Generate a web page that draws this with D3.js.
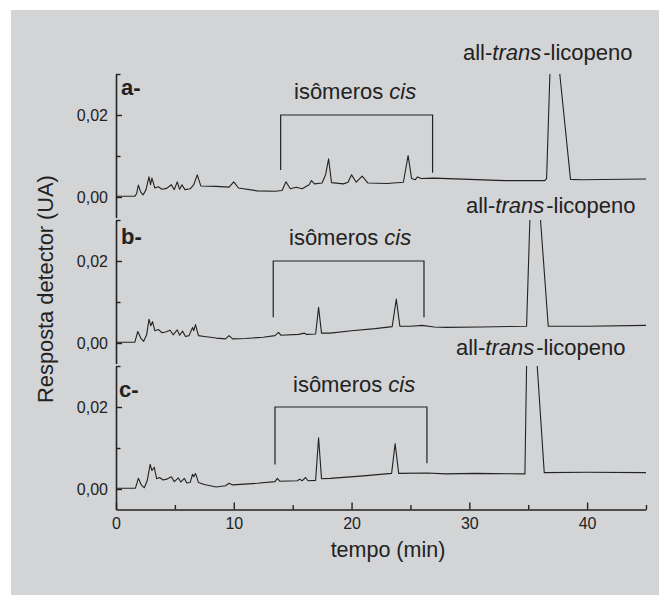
<!DOCTYPE html>
<html><head><meta charset="utf-8">
<script src="https://cdn.jsdelivr.net/npm/d3@7"></script>
<style>
html,body{margin:0;padding:0;background:#fff;}
svg{display:block;}
text{font-family:"Liberation Sans",Arial,Helvetica,sans-serif;fill:#222;}
</style></head>
<body>
<svg id="chart" width="659" height="595"></svg>
<script>
// ---- data (time in min, response in UA) ----
const panelLabels = ["a-", "b-", "c-"];
const xMajorTicks = [0, 10, 20, 30, 40];
const xMinorTicks = [5, 15, 25, 35, 45];
const yMajorTicks = [0, 0.02];
const yMinorTicks = [0.01, 0.03];
const peakLabel = ["all-", "trans", "-licopeno"];
const isomerLabel = ["isômeros ", "cis"];
// bracket [start time, end time, left foot value, right foot value, top value]
const bracketA = [13.98, 26.88, 0.0066, 0.0059, 0.02];
const bracketB = [13.35, 26.15, 0.0063, 0.0063, 0.02];
const bracketC = [13.5, 26.4, 0.006, 0.0063, 0.02];

const traceA = [[0,0.0002],[1.6,0.0002],[1.75,0.0008],[1.9,0.0029],[2.1,0.0012],[2.3,0.0005],[2.55,0.0018],[2.8,0.0049],[2.93,0.0030],[3.05,0.0046],[3.3,0.0022],[3.6,0.0025],[3.9,0.0019],[4.3,0.0021],[4.7,0.0030],[4.95,0.0018],[5.2,0.0037],[5.4,0.0019],[5.6,0.0030],[5.85,0.0018],[6.3,0.0020],[6.6,0.0030],[6.9,0.0054],[7.2,0.0027],[8.5,0.0026],[9.6,0.0024],[10.0,0.0037],[10.4,0.0022],[12,0.0015],[13.5,0.0014],[14.1,0.0016],[14.43,0.0037],[14.8,0.0020],[15.3,0.0024],[15.8,0.0020],[16.4,0.0030],[16.6,0.0040],[16.85,0.0032],[17.5,0.0034],[17.8,0.0055],[18.05,0.0093],[18.3,0.0035],[19.3,0.0032],[19.7,0.0036],[20.0,0.0054],[20.4,0.0036],[20.9,0.0051],[21.4,0.0034],[23,0.0033],[24.4,0.0036],[24.8,0.0101],[25.1,0.0045],[25.4,0.0042],[25.6,0.0049],[25.9,0.0045],[27,0.0046],[30,0.0043],[33,0.0040],[36.4,0.0040],[36.56,0.0045],[37.04,0.048],[38.59,0.0043],[39.5,0.0042],[45,0.0044]];

const traceB = [[0,0.0002],[1.6,0.0002],[1.85,0.0028],[2.1,0.0012],[2.35,0.0004],[2.6,0.0020],[2.8,0.0058],[2.95,0.0042],[3.1,0.0052],[3.3,0.0030],[3.6,0.0033],[3.9,0.0025],[4.2,0.0027],[4.6,0.0031],[4.85,0.0020],[5.2,0.0032],[5.4,0.0019],[5.65,0.0029],[5.9,0.0016],[6.2,0.0018],[6.5,0.0038],[6.6,0.0030],[6.75,0.0045],[7.0,0.0018],[7.5,0.0016],[8.5,0.0012],[9.3,0.0010],[9.6,0.0018],[9.9,0.0010],[11,0.0011],[12.5,0.0014],[13.5,0.0018],[13.8,0.0026],[14.0,0.0019],[15.5,0.0021],[16.0,0.0024],[16.2,0.0021],[16.95,0.0022],[17.2,0.0087],[17.45,0.0024],[18.2,0.0024],[20,0.0030],[22,0.0035],[23.45,0.0040],[23.8,0.0107],[24.1,0.0041],[25,0.0041],[26,0.0043],[27,0.0039],[28,0.0038],[31,0.0039],[34.86,0.0041],[35.41,0.055],[36.7,0.0041],[40,0.0041],[45,0.0043]];

const traceC = [[0,0.0002],[1.65,0.0002],[1.9,0.0026],[2.15,0.0010],[2.4,0.0003],[2.65,0.0020],[2.9,0.0060],[3.05,0.0045],[3.25,0.0053],[3.45,0.0025],[3.7,0.0028],[4.0,0.0022],[4.3,0.0024],[4.7,0.0030],[4.95,0.0018],[5.3,0.0027],[5.5,0.0017],[5.8,0.0026],[6.0,0.0015],[6.3,0.0016],[6.5,0.0036],[6.6,0.0030],[6.75,0.0038],[7.0,0.0016],[7.5,0.0011],[8.5,0.0005],[9.3,0.0008],[9.6,0.0014],[9.9,0.0010],[12,0.0014],[13.5,0.0018],[13.7,0.0026],[13.9,0.0019],[15.4,0.0020],[15.6,0.0024],[15.8,0.0020],[16.1,0.0028],[16.3,0.0020],[16.95,0.0021],[17.2,0.0125],[17.45,0.0025],[18.2,0.0026],[21,0.0032],[23.4,0.0038],[23.7,0.0111],[24.0,0.0038],[26.4,0.0039],[28,0.0037],[30.5,0.0038],[34.72,0.0037],[35.03,0.062],[36.36,0.0040],[40,0.0041],[45,0.0040]];

const traces = [traceA, traceB, traceC];
const brackets = [bracketA, bracketB, bracketC];

// ---- layout ----
const svg = d3.select("#chart");
svg.append("rect").attr("x", 11).attr("y", 10).attr("width", 648).attr("height", 585).attr("fill", "#d3d4d6");

const x = d3.scaleLinear().domain([0, 45]).range([116, 646]);
const zeroY = [197, 343, 489];
const pxPer = 4100; // px per UA
const yDomain = [-0.005, 0.03];
const ys = zeroY.map(z => d3.scaleLinear().domain(yDomain).range([z + 0.005 * pxPer, z - 0.03 * pxPer]));

const labelPos = [
  {panel: [121, 95], iso: [294, 99], peak: [463, 60]},
  {panel: [121, 244], iso: [289, 245], peak: [466, 213]},
  {panel: [119, 397], iso: [293, 392], peak: [456, 355]}
];

const fmt = v => d3.format(".2f")(v).replace(".", ",");
const ink = "#222";

ys.forEach((y, i) => {
  const g = svg.append("g");
  const r = y.range();
  svg.append("clipPath").attr("id", "clip" + i).append("rect")
    .attr("x", x(0)).attr("y", r[1]).attr("width", x(45) - x(0) + 2).attr("height", r[0] - r[1]);
  const ax = g.append("g").attr("transform", `translate(${x(0)},0)`)
    .call(d3.axisLeft(y).tickValues(yMajorTicks).tickSize(-6).tickSizeOuter(0).tickPadding(8).tickFormat(fmt));
  ax.select(".domain").attr("stroke", ink).attr("stroke-width", 1.6);
  ax.selectAll(".tick line").attr("stroke", ink).attr("stroke-width", 1.4);
  ax.selectAll(".tick text").attr("font-size", 16).attr("fill", ink)
    .attr("font-family", '"Liberation Sans",Arial,sans-serif');
  const mx = g.append("g").attr("transform", `translate(${x(0)},0)`)
    .call(d3.axisLeft(y).tickValues(yMinorTicks).tickSize(-4.5).tickSizeOuter(0).tickFormat(""));
  mx.select(".domain").remove();
  mx.selectAll(".tick line").attr("stroke", ink).attr("stroke-width", 1.4);

  const line = d3.line().x(d => x(d[0])).y(d => y(d[1]));
  g.append("path").datum(traces[i]).attr("d", line).attr("fill", "none")
    .attr("stroke", ink).attr("stroke-width", 1.1).attr("stroke-linejoin", "round")
    .attr("clip-path", `url(#clip${i})`);

  const b = brackets[i];
  g.append("path").attr("d",
    `M${x(b[0])},${y(b[2])}V${y(b[4])}H${x(b[1])}V${y(b[3])}`)
    .attr("fill", "none").attr("stroke", ink).attr("stroke-width", 1.2);

  const lp = labelPos[i];
  g.append("text").attr("x", lp.panel[0]).attr("y", lp.panel[1])
    .attr("font-size", 22).attr("font-weight", "bold").attr("fill", ink).text(panelLabels[i]);
  const it = g.append("text").attr("x", lp.iso[0]).attr("y", lp.iso[1]).attr("font-size", 22).attr("fill", ink);
  it.append("tspan").text(isomerLabel[0]);
  it.append("tspan").attr("font-style", "italic").text(isomerLabel[1]);
  const pt = g.append("text").attr("x", lp.peak[0]).attr("y", lp.peak[1]).attr("font-size", 22).attr("fill", ink);
  pt.append("tspan").text(peakLabel[0]);
  pt.append("tspan").attr("font-style", "italic").text(peakLabel[1]);
  pt.append("tspan").attr("dx", 2).text(peakLabel[2]);
});

const xAxisY = ys[2].range()[0];
const xa = svg.append("g").attr("transform", `translate(0,${xAxisY})`)
  .call(d3.axisBottom(x).tickValues(xMajorTicks).tickSize(-7).tickSizeOuter(0).tickPadding(8).tickFormat(d3.format("d")));
xa.select(".domain").attr("stroke", ink).attr("stroke-width", 1.6);
xa.selectAll(".tick line").attr("stroke", ink).attr("stroke-width", 1.4);
xa.selectAll(".tick text").attr("font-size", 16).attr("fill", ink)
  .attr("font-family", '"Liberation Sans",Arial,sans-serif');
const xm = svg.append("g").attr("transform", `translate(0,${xAxisY})`)
  .call(d3.axisBottom(x).tickValues(xMinorTicks).tickSize(-4.5).tickSizeOuter(0).tickFormat(""));
xm.select(".domain").remove();
xm.selectAll(".tick line").attr("stroke", ink).attr("stroke-width", 1.4);

svg.append("text").attr("x", 388).attr("y", 557).attr("text-anchor", "middle")
  .attr("font-size", 21.5).attr("fill", ink).text("tempo (min)");
svg.append("text").attr("transform", "translate(53,289) rotate(-90)").attr("text-anchor", "middle")
  .attr("font-size", 21.8).attr("fill", ink).text("Resposta detector (UA)");
</script>
</body></html>
